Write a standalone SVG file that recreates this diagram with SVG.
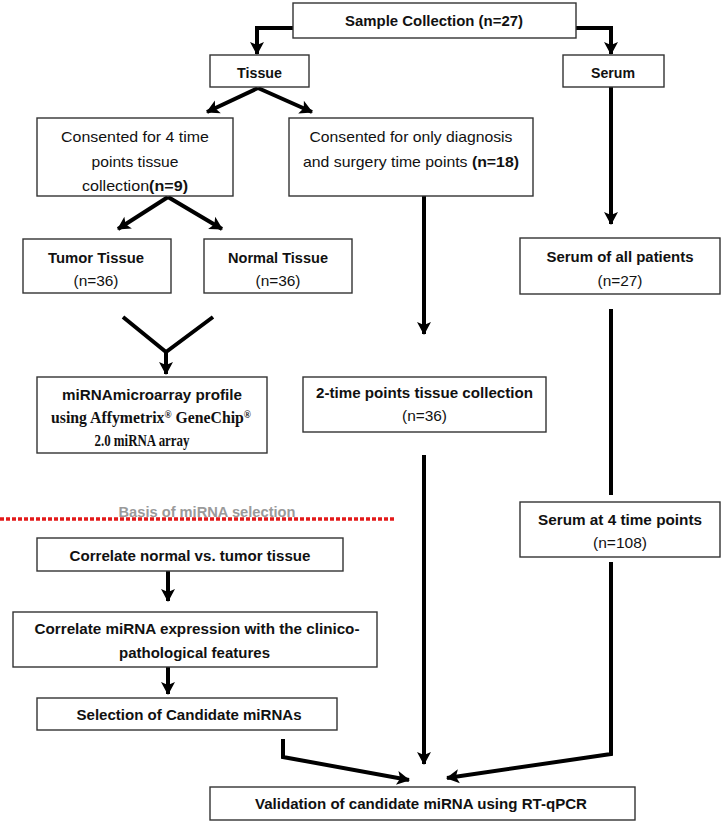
<svg xmlns="http://www.w3.org/2000/svg" width="723" height="823" viewBox="0 0 723 823">
<style>
.box{fill:#fff;stroke:#333;stroke-width:1.4}
.t{font-family:"Liberation Sans",Arial,sans-serif;font-size:15px;fill:#111;text-anchor:middle}
.b{font-weight:bold}
.ser{font-family:"Liberation Serif","Times New Roman",serif;font-weight:bold;font-size:16.5px}
.sup{font-size:10px;baseline-shift:super}
.c{fill:none;stroke:#000;stroke-width:4;stroke-linejoin:miter}
.ca{fill:none;stroke:#000;stroke-width:4;marker-end:url(#ah)}
.basis{font-family:"Liberation Sans",Arial,sans-serif;font-size:15px;font-weight:bold;fill:#9a9a9a;text-anchor:middle}
</style>
<defs>
<marker id="ah" markerUnits="userSpaceOnUse" markerWidth="16" markerHeight="16" refX="13" refY="8" orient="auto" viewBox="0 0 16 16">
<path d="M1,1 L14,8 L1,15 L4,8 Z" fill="#000"/>
</marker>
</defs>
<g id="connectors">
<polyline class="ca" points="293,28 257,28 257,54"/>
<polyline class="ca" points="576,28 611,28 611,54"/>
<line class="ca" x1="258" y1="88" x2="207" y2="112"/>
<line class="ca" x1="258" y1="88" x2="312" y2="112"/>
<line class="ca" x1="168" y1="197" x2="118" y2="229"/>
<line class="ca" x1="168" y1="197" x2="222" y2="229"/>
<polyline class="c" points="123,317 166,352 213,317"/>
<line class="ca" x1="166" y1="350" x2="166" y2="374"/>
<line class="ca" x1="424" y1="196" x2="424" y2="334"/>
<line class="ca" x1="611" y1="87" x2="611" y2="224"/>
<line class="c" x1="611" y1="309" x2="611" y2="495"/>
<polyline class="ca" points="611,562 611,754 447,778"/>
<line class="ca" x1="424" y1="455" x2="424" y2="764"/>
<polyline class="ca" points="283,739 283,757 409,780"/>
<line class="ca" x1="168" y1="571" x2="168" y2="601"/>
<line class="ca" x1="168" y1="667" x2="168" y2="694"/>
</g>
<g id="divider">
<line x1="0" y1="519" x2="396" y2="519" stroke="#e31a1a" stroke-width="3.5" stroke-dasharray="4 2"/>
<text class="basis" x="207" y="517" textLength="177" lengthAdjust="spacingAndGlyphs">Basis of miRNA selection</text>
</g>
<g id="sample">
<rect class="box" x="293" y="3" width="283" height="35"/>
<text class="t b" x="434" y="26" textLength="178" lengthAdjust="spacingAndGlyphs">Sample Collection (n=27)</text>
</g>
<g id="tissue">
<rect class="box" x="210" y="55" width="99" height="32"/>
<text class="t b" x="259.5" y="78" textLength="45" lengthAdjust="spacingAndGlyphs">Tissue</text>
</g>
<g id="serum">
<rect class="box" x="563" y="55" width="101" height="32"/>
<text class="t b" x="613" y="78" textLength="44" lengthAdjust="spacingAndGlyphs">Serum</text>
</g>
<g id="consented4">
<rect class="box" x="37" y="118" width="196" height="78"/>
<text class="t" x="135" y="142" textLength="148" lengthAdjust="spacingAndGlyphs">Consented for 4 time</text>
<text class="t" x="135" y="167" textLength="87" lengthAdjust="spacingAndGlyphs">points tissue</text>
<text class="t" x="135" y="191" textLength="106" lengthAdjust="spacingAndGlyphs">collection<tspan class="b">(n=9)</tspan></text>
</g>
<g id="consented2">
<rect class="box" x="289" y="118" width="244" height="78"/>
<text class="t" x="411" y="142" textLength="203" lengthAdjust="spacingAndGlyphs">Consented for only diagnosis</text>
<text class="t" x="411" y="167" textLength="216" lengthAdjust="spacingAndGlyphs">and surgery time points <tspan class="b">(n=18)</tspan></text>
</g>
<g id="tumor">
<rect class="box" x="23" y="239" width="148" height="54"/>
<text class="t b" x="96" y="263" textLength="96" lengthAdjust="spacingAndGlyphs">Tumor Tissue</text>
<text class="t" x="96" y="286" textLength="45" lengthAdjust="spacingAndGlyphs">(n=36)</text>
</g>
<g id="normal">
<rect class="box" x="204" y="239" width="148" height="54"/>
<text class="t b" x="278" y="263" textLength="100" lengthAdjust="spacingAndGlyphs">Normal Tissue</text>
<text class="t" x="278" y="286" textLength="45" lengthAdjust="spacingAndGlyphs">(n=36)</text>
</g>
<g id="serumall">
<rect class="box" x="520" y="238" width="200" height="56"/>
<text class="t b" x="620" y="262" textLength="147" lengthAdjust="spacingAndGlyphs">Serum of all patients</text>
<text class="t" x="620" y="286" textLength="45" lengthAdjust="spacingAndGlyphs">(n=27)</text>
</g>
<g id="microarray">
<rect class="box" x="37" y="377" width="230" height="76"/>
<text class="t b" x="152" y="400" textLength="180" lengthAdjust="spacingAndGlyphs">miRNAmicroarray profile</text>
<text class="t ser" x="151" y="423" textLength="200" lengthAdjust="spacingAndGlyphs">using Affymetrix<tspan class="sup">®</tspan> GeneChip<tspan class="sup">®</tspan></text>
<text class="t ser" x="142" y="446" textLength="95" lengthAdjust="spacingAndGlyphs">2.0 miRNA array</text>
</g>
<g id="twotime">
<rect class="box" x="303" y="377" width="243" height="55"/>
<text class="t b" x="424.5" y="398" textLength="217" lengthAdjust="spacingAndGlyphs">2-time points tissue collection</text>
<text class="t" x="424.5" y="421" textLength="45" lengthAdjust="spacingAndGlyphs">(n=36)</text>
</g>
<g id="serum4">
<rect class="box" x="520" y="502" width="200" height="55"/>
<text class="t b" x="620" y="525" textLength="164" lengthAdjust="spacingAndGlyphs">Serum at 4 time points</text>
<text class="t" x="620" y="548" textLength="54" lengthAdjust="spacingAndGlyphs">(n=108)</text>
</g>
<g id="corrnormal">
<rect class="box" x="37" y="538" width="306" height="33"/>
<text class="t b" x="190" y="561" textLength="241" lengthAdjust="spacingAndGlyphs">Correlate normal vs. tumor tissue</text>
</g>
<g id="corrclin">
<rect class="box" x="13" y="612" width="364" height="55"/>
<text class="t b" x="197" y="634" textLength="325" lengthAdjust="spacingAndGlyphs">Correlate miRNA expression with the clinico-</text>
<text class="t b" x="194.5" y="658" textLength="151" lengthAdjust="spacingAndGlyphs">pathological features</text>
</g>
<g id="selection">
<rect class="box" x="37" y="698" width="300" height="32"/>
<text class="t b" x="189" y="720" textLength="225" lengthAdjust="spacingAndGlyphs">Selection of Candidate miRNAs</text>
</g>
<g id="validation">
<rect class="box" x="210" y="787" width="425" height="33"/>
<text class="t b" x="421" y="809" textLength="332" lengthAdjust="spacingAndGlyphs">Validation of candidate miRNA using RT-qPCR</text>
</g>
</svg>
